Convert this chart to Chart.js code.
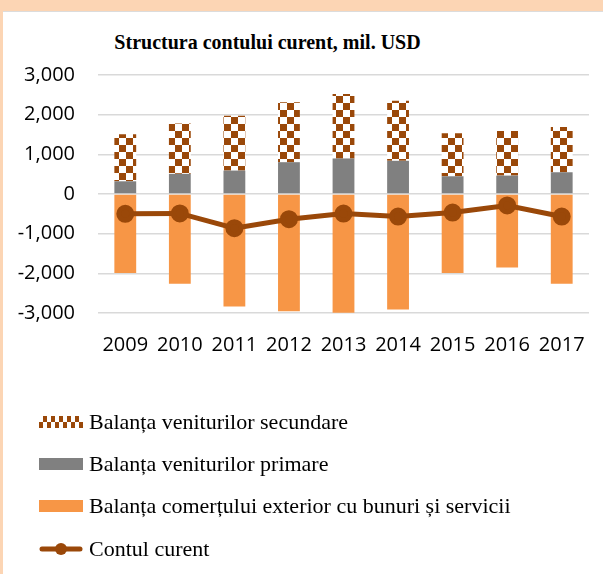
<!DOCTYPE html>
<html>
<head>
<meta charset="utf-8">
<script src="https://cdn.jsdelivr.net/npm/chart.js@4"></script>
<style>
  body { margin: 0; background: #fcd5b4; width: 603px; height: 574px; overflow: hidden; position: relative; }
  #panel { position: absolute; left: 3px; top: 11px; width: 600px; height: 563px; background: #fff; border-top: 1px solid #dcdcdc; }
  #title { position: absolute; top: 31px; left: 0; width: 535px; text-align: center;
           font: bold 20px "Liberation Serif", serif; color: #000; }
  #wrap { position: absolute; left: 0; top: 40px; width: 603px; height: 320px; }
  #legend { position: absolute; left: 39px; top: 401px; font: 22px "Liberation Serif", serif; color: #000; }
  .row { display: flex; align-items: center; height: 43.3px; margin-top: -1px; }
  .row canvas { margin-right: 6px; }
</style>
</head>
<body>
<div id="panel"></div>
<div id="title">Structura contului curent, mil. USD</div>
<div id="wrap"><canvas id="chart"></canvas></div>
<div id="legend"></div>
<script>
// date (mil. USD)
const years = ["2009", "2010", "2011", "2012", "2013", "2014", "2015", "2016", "2017"];
const secundare = [1185, 1270, 1380, 1508, 1624, 1513, 1083, 1125, 1142];
const primare = [320, 508, 591, 802, 896, 837, 447, 464, 548];
const comert = [-1990, -2260, -2835, -2954, -2995, -2911, -1990, -1853, -2260];
const contCurent = [-500, -490, -863, -635, -492, -568, -467, -289, -568];
const yTicks = [-3000, -2000, -1000, 0, 1000, 2000, 3000];

const brown = "#9a4809";
const gray = "#808080";
const orange = "#f79646";

// model de tabla de sah pentru veniturile secundare
function checker(size) {
  const c = document.createElement("canvas");
  c.width = size * 2; c.height = size * 2;
  const ctx = c.getContext("2d");
  ctx.fillStyle = "#fff";
  ctx.fillRect(0, 0, c.width, c.height);
  ctx.fillStyle = brown;
  ctx.fillRect(0, 0, size, size);
  ctx.fillRect(size, size, size, size);
  return ctx.createPattern(c, "repeat");
}

const chart = new Chart(document.getElementById("chart"), {
  type: "bar",
  data: {
    labels: years,
    datasets: [
      { label: "Contul curent", type: "line", data: contCurent, stack: "linie",
        borderColor: brown, backgroundColor: brown, borderWidth: 5,
        pointRadius: 6.5, pointHoverRadius: 6.5, order: 0 },
      { label: "Balanța comerțului exterior cu bunuri și servicii", data: comert, stack: "bare",
        backgroundColor: orange, order: 1 },
      { label: "Balanța veniturilor primare", data: primare, stack: "bare",
        backgroundColor: gray, order: 1 },
      { label: "Balanța veniturilor secundare", data: secundare, stack: "bare",
        backgroundColor: checker(7), order: 1 }
    ]
  },
  options: {
    responsive: true,
    maintainAspectRatio: false,
    animation: false,
    barPercentage: 0.4,
    categoryPercentage: 1,
    layout: { padding: { top: 0, right: 14 } },
    plugins: { legend: { display: false }, tooltip: { enabled: false } },
    scales: {
      x: {
        stacked: true,
        grid: { display: false },
        border: { display: false },
        ticks: { color: "#000", padding: 12, font: { family: "Open Sans", size: 20 } },
        afterFit: s => { s.height = 47; }
      },
      y: {
        stacked: true,
        min: -3000, max: 3000,
        afterBuildTicks: s => { s.ticks = yTicks.map(v => ({ value: v })); },
        grid: { color: "#d9d9d9", lineWidth: 1.5, drawTicks: false },
        border: { display: false },
        ticks: { color: "#000", padding: 23, font: { family: "Open Sans", size: 20 },
                 callback: v => v.toLocaleString("en-US") },
        afterFit: s => { s.width = 98; }
      }
    }
  }
});

// legenda verticala, in ordinea din grafic
const legend = document.getElementById("legend");
const order = [3, 2, 1, 0];
order.forEach(i => {
  const ds = chart.data.datasets[i];
  const row = document.createElement("div");
  row.className = "row";
  const sym = document.createElement("canvas");
  sym.width = 44; sym.height = 14;
  const ctx = sym.getContext("2d");
  if (ds.type === "line") {
    ctx.strokeStyle = brown; ctx.lineWidth = 5; ctx.lineCap = "round";
    ctx.beginPath(); ctx.moveTo(3, 7); ctx.lineTo(41, 7); ctx.stroke();
    ctx.fillStyle = brown; ctx.beginPath(); ctx.arc(22, 7, 6, 0, Math.PI * 2); ctx.fill();
  } else if (i === 3) {
    ctx.fillStyle = brown;
    for (let k = 0; k < 11; k++) {
      ctx.fillRect(k * 4, (k % 2) ? 1 : 7, 4, 6);
    }
  } else {
    ctx.fillStyle = ds.backgroundColor;
    ctx.fillRect(0, 1, 44, 12);
  }
  row.appendChild(sym);
  const txt = document.createElement("span");
  txt.textContent = ds.label;
  row.appendChild(txt);
  legend.appendChild(row);
});
</script>
</body>
</html>
